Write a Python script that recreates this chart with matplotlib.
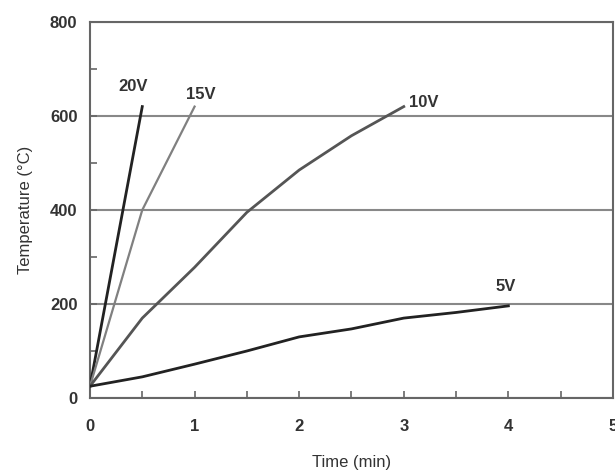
import matplotlib
matplotlib.use("Agg")
import matplotlib.pyplot as plt
from matplotlib.ticker import MultipleLocator

plt.rcParams['font.family'] = ['Liberation Sans', 'DejaVu Sans']

# --- data ---
t_20v = [0, 0.5]
temp_20v = [25, 620]

t_15v = [0, 0.5, 1.0]
temp_15v = [25, 400, 620]

t_10v = [0, 0.5, 1.0, 1.5, 2.0, 2.5, 3.0]
temp_10v = [25, 170, 278, 395, 485, 558, 620]

t_5v = [0, 0.5, 1.0, 1.5, 2.0, 2.5, 3.0, 3.5, 4.0]
temp_5v = [25, 45, 72, 100, 130, 147, 170, 182, 196]

labels = ["20V", "15V", "10V", "5V"]
label_pos = [(0.41, 662), (1.06, 645), (3.19, 628), (3.97, 237)]

fig = plt.figure(figsize=(6.15, 4.7), dpi=100)
ax = fig.add_axes([0.1463, 0.1532, 0.8504, 0.80])

ax.plot(t_20v, temp_20v, color='#222222', lw=2.0, zorder=3)
ax.plot(t_15v, temp_15v, color='#808080', lw=1.6, zorder=3)
ax.plot(t_10v, temp_10v, color='#555555', lw=2.0, zorder=3)
ax.plot(t_5v, temp_5v, color='#222222', lw=2.0, zorder=3)

for lab, (x, y) in zip(labels, label_pos):
    ax.text(x, y, lab, ha='center', va='center', fontsize=12,
            fontweight='bold', color='#333333')

ax.set_xlim(0, 5)
ax.set_ylim(0, 800)
ax.xaxis.set_major_locator(MultipleLocator(1))
ax.xaxis.set_minor_locator(MultipleLocator(0.5))
ax.yaxis.set_major_locator(MultipleLocator(200))
ax.yaxis.set_minor_locator(MultipleLocator(100))

ax.tick_params(which='both', direction='in', color='#666666', width=1.2,
               top=False, right=False)
ax.tick_params(which='major', length=5, labelsize=12, labelcolor='#333333')
ax.tick_params(which='minor', length=5)
ax.tick_params(axis='x', which='major', pad=15)
ax.tick_params(axis='y', which='major', pad=9)
for lbl in ax.get_xticklabels() + ax.get_yticklabels():
    lbl.set_fontweight('bold')

ax.grid(axis='y', which='major', color='#888888', lw=1.5)
ax.set_axisbelow(True)

for side in ax.spines.values():
    side.set_color('#666666')
    side.set_linewidth(1.5)

ax.set_xlabel("Time (min)", fontsize=12, color='#333333', labelpad=15)
ax.set_ylabel("Temperature (°C)", fontsize=12, color='#333333', labelpad=12)

fig.savefig("out.png", dpi=100)
